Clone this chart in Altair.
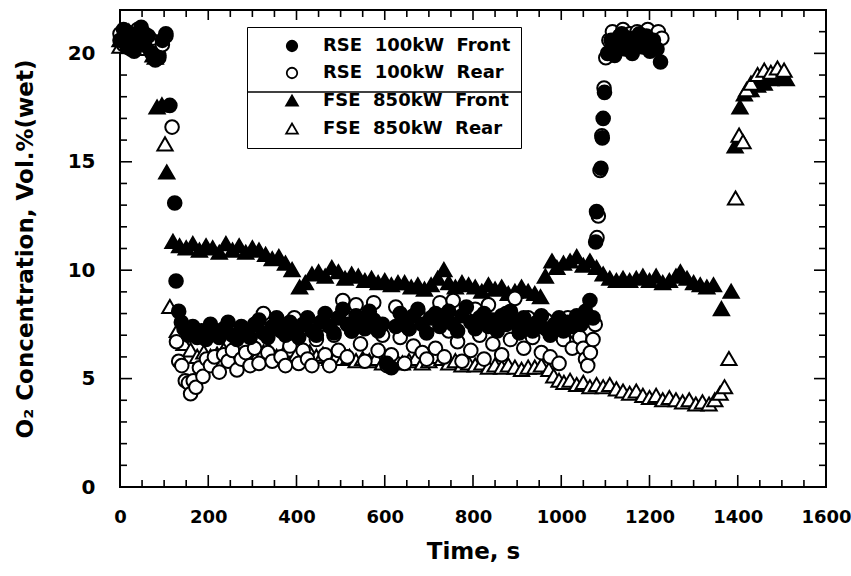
import altair as alt
import pandas as pd

NB = "\u00a0\u00a0"

# ---- RSE 100 kW, front probe (filled circles) ----
rse_front_t = [0, 8, 16, 24, 32, 40, 48, 56, 64, 72, 80, 88, 96, 104,
               113, 124, 127, 133, 139,
               145, 155, 165, 175, 185, 195, 205, 215, 225, 235,
               245, 255, 265, 275, 285, 295, 305, 315, 325, 335,
               345, 355, 365, 375, 385, 395, 405, 415, 425, 435,
               445, 455, 465, 475, 485, 495, 505, 515, 525, 535,
               545, 555, 565, 575, 585, 595, 605, 615, 625, 635,
               645, 655, 665, 675, 685, 695, 705, 715, 725, 735,
               745, 755, 765, 775, 785, 795, 805, 815, 825, 835,
               845, 855, 865, 875, 885, 895, 905, 915, 925, 935,
               945, 955, 965, 975, 985, 995, 1005, 1015, 1025, 1035,
               1045, 1055, 1065, 1072,
               1078, 1080, 1090, 1093, 1095, 1098,
               1105, 1113, 1121, 1129, 1137, 1145, 1153, 1161, 1169, 1177,
               1185, 1193, 1201, 1209, 1217, 1225]
rse_front_o2 = [20.6, 21.1, 20.3, 20.9, 20.1, 20.7, 21.2, 20.4, 20.8, 20.0, 19.7, 19.8, 20.6, 20.9,
                17.6, 13.1, 9.5, 8.1, 7.6,
                7.3, 7.0, 7.4, 6.9, 7.2, 6.8, 7.5, 7.1, 6.9, 7.3,
                7.6, 7.0, 6.8, 7.4, 7.2, 6.9, 7.5, 7.7, 7.1, 6.9,
                7.4, 7.8, 7.2, 7.0, 7.6, 7.3, 6.9, 7.5, 7.8, 7.2,
                7.0, 7.6, 8.0, 7.4, 7.1, 7.8, 8.2, 7.5, 7.2, 7.9,
                7.6, 7.3, 8.1, 7.7, 7.2, 7.5, 5.7, 5.5, 7.4, 8.0,
                7.6, 7.3, 7.9, 8.2, 7.5, 7.1, 7.8, 8.0, 7.4, 7.7,
                8.1, 7.5, 7.2, 7.9, 8.3, 7.6, 7.3, 7.8, 8.0, 7.4,
                7.7, 7.2, 7.9, 7.5, 8.1, 7.6, 7.1, 7.8, 7.4, 7.2,
                7.6, 7.9, 7.3, 7.0, 7.5, 7.8, 7.2, 7.6, 7.4, 7.9,
                7.5, 8.1, 8.6, 7.8,
                11.3, 12.7, 14.7, 16.1, 17.0, 18.2,
                20.0, 20.6, 19.9, 20.4, 20.9, 20.2, 20.7, 20.0, 20.5, 20.9,
                20.3, 20.8, 20.1, 20.6, 20.2, 19.6]

# ---- RSE 100 kW, rear probe (open circles) ----
rse_rear_t = [0, 8, 16, 24, 32, 40, 48, 56, 64, 72, 80, 88, 96, 104,
              118, 128, 133, 140, 148, 155, 160, 166, 172, 180, 188, 196, 205, 214,
              225, 235, 245, 255, 265, 275, 285, 295, 305, 315,
              325, 335, 345, 355, 365, 375, 385, 395, 405, 415,
              425, 435, 445, 455, 465, 475, 485, 495, 505, 515,
              525, 535, 545, 555, 565, 575, 585, 595, 605, 615,
              625, 635, 645, 655, 665, 675, 685, 695, 705, 715,
              725, 735, 745, 755, 765, 775, 785, 795, 805, 815,
              825, 835, 845, 855, 865, 875, 885, 895, 905, 915,
              925, 935, 945, 955, 965, 975, 985, 995, 1005, 1015,
              1025, 1035, 1042, 1050, 1055, 1060, 1066, 1072, 1077,
              1081, 1084, 1088, 1092, 1097, 1101,
              1108, 1116, 1124, 1132, 1140, 1148, 1156, 1164, 1172, 1180,
              1188, 1196, 1204, 1212, 1220, 1228]
rse_rear_o2 = [20.9, 20.4, 21.0, 20.2, 20.8, 21.1, 20.5, 20.9, 20.3, 20.6, 20.1, 19.9, 20.4, 20.8,
               16.6, 6.7, 5.8, 5.6, 4.9, 4.8, 4.3, 4.9, 4.6, 5.5, 5.1, 5.9, 5.6, 6.0,
               5.3, 6.1, 5.8, 6.3, 5.4, 5.9, 6.2, 5.6, 6.4, 5.7,
               8.0, 6.2, 5.8, 7.4, 6.0, 5.6, 6.5, 7.8, 5.7, 6.3,
               5.9, 5.6, 6.8, 7.5, 6.1, 5.6, 7.0, 6.3, 8.6, 6.0,
               7.2, 8.4, 6.6, 5.8, 7.7, 8.5, 6.3, 7.0, 5.6, 6.1,
               8.3, 6.9, 5.7, 7.3, 6.5, 8.0, 6.2, 5.9, 7.6, 6.4,
               8.5, 6.0, 7.2, 8.6, 6.7, 5.8, 7.9, 6.3, 8.2, 7.0,
               5.9, 8.4, 6.6, 7.5, 6.1, 8.0, 6.8, 8.7, 7.2, 6.4,
               7.8, 6.9, 7.4, 6.2, 7.7, 6.0, 7.3, 5.7, 6.8, 7.8,
               6.4, 7.1, 6.9, 6.4, 5.9, 5.6, 6.2, 6.8, 7.5,
               11.5, 12.5, 14.6, 16.2, 18.4, 19.8,
               20.6, 21.0, 20.4, 20.8, 21.1, 20.3, 20.9, 20.5, 21.0, 20.6,
               20.9, 21.1, 20.4, 20.8, 21.0, 20.7]

# ---- FSE 850 kW, front probe (filled triangles) ----
fse_front_t = [0, 20, 40, 60, 75, 84, 95, 106, 120, 135, 150, 165, 180, 195,
               210, 225, 240, 255, 270, 285, 300, 315, 330, 345, 360, 375, 390,
               407, 420, 435, 450, 465, 480, 495, 510, 525, 540, 555, 570, 585,
               600, 615, 630, 645, 660, 675, 690, 705, 720, 734, 745, 760, 775,
               790, 805, 820, 835, 850, 865, 880, 895, 910, 925, 940, 953, 964,
               979, 990, 1005, 1020, 1035, 1050, 1065, 1080, 1095, 1110, 1125,
               1140, 1155, 1170, 1185, 1200, 1215, 1230, 1245, 1260, 1270, 1285,
               1300, 1315, 1330, 1345, 1363, 1385, 1394, 1405, 1415, 1430, 1445,
               1460, 1475, 1490, 1500, 1510]
fse_front_o2 = [20.6, 21.0, 20.4, 20.8, 19.9, 17.5, 17.6, 14.5, 11.3, 11.1, 11.0, 11.2, 10.9, 11.1,
                11.0, 10.8, 11.2, 10.9, 11.1, 10.8, 11.0, 10.9, 10.7, 10.5, 10.6, 10.3, 10.0,
                9.2, 9.4, 9.8, 9.9, 9.7, 10.1, 9.9, 9.6, 9.8, 9.7, 9.5, 9.6, 9.4,
                9.5, 9.3, 9.4, 9.4, 9.2, 9.3, 9.1, 9.3, 9.6, 10.0, 9.4, 9.2, 9.4,
                9.3, 9.2, 9.0, 9.3, 9.1, 9.2, 8.9, 9.0, 9.2, 9.0, 8.9, 8.75, 9.7,
                10.4, 10.1, 10.3, 10.4, 10.6, 10.2, 10.4, 10.1, 9.8, 9.6, 9.5,
                9.6, 9.5, 9.6, 9.7, 9.5, 9.7, 9.4, 9.5, 9.7, 9.9, 9.6,
                9.4, 9.3, 9.2, 9.3, 8.2, 9.0, 15.7, 17.5, 18.1, 18.3, 18.5,
                18.6, 18.8, 19.0, 18.9, 18.8]

# ---- FSE 850 kW, rear probe (open triangles) ----
fse_rear_t = [0, 20, 40, 60, 80, 102, 113, 130, 145, 160, 175, 190, 205, 220,
              235, 250, 265, 280, 295, 310, 325, 340, 355, 370, 385, 400, 415,
              430, 445, 460, 475, 490, 505, 520, 535, 550, 565, 580, 595, 610,
              625, 640, 655, 670, 685, 700, 715, 730, 745, 760, 775, 790, 805,
              820, 835, 850, 865, 880, 895, 910, 925, 940, 955, 972, 983, 995,
              1006, 1020, 1035, 1050, 1065, 1080, 1095, 1110, 1125, 1140, 1155,
              1170, 1185, 1200, 1215, 1230, 1245, 1260, 1275, 1290, 1305, 1320,
              1335, 1348, 1360, 1370, 1380, 1395, 1403, 1412, 1420, 1430, 1445,
              1460, 1475, 1490, 1505]
fse_rear_o2 = [20.3, 20.8, 20.2, 20.6, 19.8, 15.8, 8.3, 7.2, 6.6, 6.3, 6.0, 6.2, 6.0, 6.1,
               6.3, 6.0, 6.2, 6.1, 6.3, 6.0, 6.2, 6.2, 6.0, 6.1, 6.3, 6.1, 6.0,
               6.2, 6.0, 6.1, 5.9, 6.0, 5.9, 6.0, 5.8, 5.9, 5.8, 5.9, 5.7, 5.8,
               5.9, 5.7, 5.8, 5.9, 5.7, 5.8, 6.0, 5.9, 5.7, 5.8, 5.6, 5.7, 5.6,
               5.7, 5.5, 5.6, 5.5, 5.6, 5.5, 5.4, 5.5, 5.5, 5.6, 5.4, 5.1, 4.9,
               4.8, 4.9, 4.7, 4.8, 4.6, 4.7, 4.6, 4.7, 4.5, 4.4, 4.3,
               4.4, 4.2, 4.1, 4.2, 4.0, 4.1, 4.0, 3.9, 4.0, 3.8, 3.9,
               3.8, 4.0, 4.3, 4.6, 5.9, 13.3, 16.2, 15.9, 18.3, 18.6, 19.0,
               19.2, 19.1, 19.3, 19.2]

series_names = [
    "RSE" + NB + "100kW" + NB + "Front",
    "RSE" + NB + "100kW" + NB + "Rear",
    "FSE" + NB + "850kW" + NB + "Front",
    "FSE" + NB + "850kW" + NB + "Rear",
]
series_fill = ["black", "white", "black", "white"]
series_stroke = ["black", "black", "black", "black"]
tri = "M-1.12,0.88L0,-1.05L1.12,0.88Z"
series_shape = ["circle", "circle", tri, tri]

# axis tick positions
x_major = [0, 200, 400, 600, 800, 1000, 1200, 1400, 1600]
x_minor = [50, 100, 150, 250, 300, 350, 450, 500, 550, 650, 700, 750,
           850, 900, 950, 1050, 1100, 1150, 1250, 1300, 1350, 1450, 1500, 1550]
y_major = [0, 5, 10, 15, 20]
y_minor = [1, 2, 3, 4, 6, 7, 8, 9, 11, 12, 13, 14, 16, 17, 18, 19, 21]

# drawing order: filled triangles, open triangles, open circles, filled circles on top
parts = [
    (series_names[2], fse_front_t, fse_front_o2),
    (series_names[3], fse_rear_t, fse_rear_o2),
    (series_names[1], rse_rear_t, rse_rear_o2),
    (series_names[0], rse_front_t, rse_front_o2),
]
df = pd.concat(
    [pd.DataFrame({"time": t, "o2": v, "series": n}) for n, t, v in parts],
    ignore_index=True,
)

W, H = 706, 477
FONT = "DejaVu Sans"

xscale = alt.Scale(domain=[0, 1600], nice=False, zero=False)
yscale = alt.Scale(domain=[0, 22], nice=False, zero=False)

legend = alt.Legend(
    title=None, orient="none", legendX=127, legendY=17,
    strokeColor="black", padding=10, rowPadding=9,
    symbolOffset=26, labelOffset=22, symbolSize=110,
    symbolStrokeWidth=1.8, labelLimit=400,
    labelFont=FONT, labelFontSize=18, labelFontWeight="bold", labelColor="black",
)

points = alt.Chart(df).mark_point(
    strokeWidth=2, opacity=1, fillOpacity=1, size=185
).encode(
    x=alt.X("time:Q", scale=xscale,
            axis=alt.Axis(values=x_major, format="d", title="Time, s",
                          ticks=False, domain=False, grid=False, labelFlush=False,
                          labelFontSize=18, labelPadding=21, titlePadding=14)),
    y=alt.Y("o2:Q", scale=yscale,
            axis=alt.Axis(values=y_major, format="d",
                          title="O\u2082 Concentration, Vol.%(wet)",
                          ticks=False, domain=False, grid=False, labelFlush=False,
                          labelPadding=25, titlePadding=30)),
    shape=alt.Shape("series:N", scale=alt.Scale(domain=series_names, range=series_shape), legend=legend),
    fill=alt.Fill("series:N", scale=alt.Scale(domain=series_names, range=series_fill), legend=legend),
    stroke=alt.Stroke("series:N", scale=alt.Scale(domain=series_names, range=series_stroke), legend=legend),
)

def ticks_x(vals, length, top):
    d = pd.DataFrame({"time": vals})
    y0 = 0 if top else H
    y1 = length if top else H - length
    return alt.Chart(d).mark_rule(color="black", strokeWidth=1.6).encode(
        x=alt.X("time:Q", scale=xscale), y=alt.value(y0), y2=alt.value(y1))

def ticks_y(vals, length, right):
    d = pd.DataFrame({"o2": vals})
    x0 = W if right else 0
    x1 = W - length if right else length
    return alt.Chart(d).mark_rule(color="black", strokeWidth=1.6).encode(
        y=alt.Y("o2:Q", scale=yscale), x=alt.value(x0), x2=alt.value(x1))

tick_layers = [
    ticks_x(x_major, 12, False), ticks_x(x_minor, 7, False),
    ticks_x(x_major, 10, True), ticks_x(x_minor, 7, True),
    ticks_y(y_major, 12, False), ticks_y(y_minor, 7, False),
    ticks_y(y_major, 12, True), ticks_y(y_minor, 7, True),
]

# separator between the RSE and FSE legend entries
divider = alt.Chart(pd.DataFrame({"k": [0]})).mark_rule(color="black", strokeWidth=1.5).encode(
    x=alt.value(127), x2=alt.value(401), y=alt.value(82))

chart = alt.layer(points, *tick_layers, divider).properties(
    width=W, height=H,
    autosize=alt.AutoSizeParams(type="none"),
    padding={"left": 120, "top": 10, "right": 25, "bottom": 89},
    background="white",
).configure_view(
    stroke="black", strokeWidth=2
).configure_axis(
    labelFont=FONT, labelFontSize=20, labelFontWeight="bold", labelColor="black",
    titleFont=FONT, titleFontSize=23, titleFontWeight="bold", titleColor="black",
)

chart.save("out.html", embed_options={"renderer": "svg", "actions": False})
